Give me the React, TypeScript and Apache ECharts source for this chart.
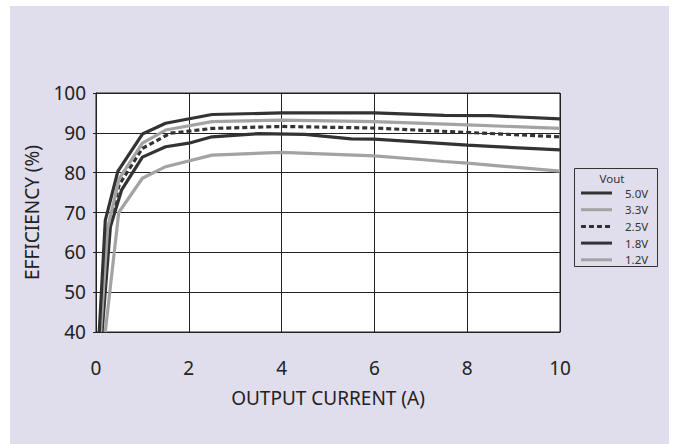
import React, { useEffect, useRef } from "react";
import * as echarts from "echarts";

const xTicks = [0, 2, 4, 6, 8, 10];
const yTicks = [40, 50, 60, 70, 80, 90, 100];

const seriesNames = ["5.0V", "3.3V", "2.5V", "1.8V", "1.2V"];

const i50 = [0.07, 0.2, 0.47, 1.0, 1.5, 2.5, 4, 6, 7.5, 8.5, 10];
const e50 = [40, 68, 80.3, 89.7, 92.4, 94.6, 95, 95, 94.4, 94.3, 93.5];

const i33 = [0.1, 0.25, 0.5, 1.0, 1.5, 2.5, 4, 6, 8, 10];
const e33 = [40, 66, 78.5, 87.4, 90.7, 92.8, 93.2, 92.8, 92, 91.1];

const i25 = [0.1, 0.27, 0.5, 1.0, 1.6, 2.5, 4, 6, 8, 10];
const e25 = [40, 66, 77, 86.1, 89.9, 91.1, 91.6, 91.2, 90.1, 89];

const i18 = [0.13, 0.31, 0.55, 1.0, 1.5, 2.0, 2.5, 3.5, 4.5, 5.5, 6, 8, 10];
const e18 = [40, 66.4, 75.6, 83.9, 86.5, 87.4, 89, 89.8, 89.6, 88.5, 88.4, 86.9, 85.7];

const i12 = [0.2, 0.49, 1.0, 1.5, 2.5, 4, 6, 7, 7.5, 8, 10];
const e12 = [40, 70, 78.6, 81.5, 84.4, 85.1, 84.2, 83.3, 82.8, 82.4, 80.4];

const currents = [i50, i33, i25, i18, i12];
const efficiencies = [e50, e33, e25, e18, e12];

const DARK = "#333333";
const LIGHT = "#a3a3a3";
const colors = [DARK, LIGHT, DARK, DARK, LIGHT];
const dashes: (string | number[])[] = ["solid", "solid", [5, 3], "solid", "solid"];

const FONT = "Noto Sans";

export default function App() {
  const ref = useRef<HTMLDivElement>(null);
  useEffect(() => {
    if (!ref.current) return;
    const chart = echarts.init(ref.current, null, { renderer: "svg" });
    const series = seriesNames.map((name, k) => ({
      name,
      type: "line",
      symbol: "none",
      data: currents[k].map((x, j) => [x, efficiencies[k][j]]),
      lineStyle: { color: colors[k], width: 3.2, type: dashes[k] },
      itemStyle: { color: colors[k] },
      z: 10 - k,
    }));
    const legendItems: any[] = [];
    seriesNames.forEach((name, k) => {
      const y = 193 + 16.7 * k;
      legendItems.push({
        type: "line",
        shape: { x1: 581, y1: y, x2: 612, y2: y },
        style: {
          stroke: colors[k],
          lineWidth: 3,
          lineDash: Array.isArray(dashes[k]) ? (dashes[k] as number[]) : null,
        },
        z: 5,
      });
      legendItems.push({
        type: "text",
        x: 625,
        y,
        style: {
          text: name,
          fontFamily: FONT,
          fontSize: 11.5,
          fill: "#333",
          align: "left",
          verticalAlign: "middle",
        },
        z: 5,
      });
    });
    chart.setOption({
      animation: false,
      backgroundColor: "transparent",
      graphic: [
        {
          type: "rect",
          shape: { x: 10, y: 6, width: 659, height: 438 },
          style: { fill: "#e0ddec" },
          z: -10,
          silent: true,
        },
        {
          type: "rect",
          shape: { x: 574.5, y: 168.5, width: 83, height: 98 },
          style: { fill: "none", stroke: "#333", lineWidth: 1 },
          z: 5,
        },
        {
          type: "text",
          x: 612,
          y: 178,
          style: {
            text: "Vout",
            fontFamily: FONT,
            fontSize: 11.5,
            fill: "#333",
            align: "center",
            verticalAlign: "middle",
          },
          z: 5,
        },
        ...legendItems,
      ],
      grid: {
        left: 96,
        top: 93,
        right: 115,
        bottom: 112,
        show: true,
        backgroundColor: "#ffffff",
        borderColor: "#222",
        borderWidth: 1,
      },
      xAxis: {
        type: "value",
        min: xTicks[0],
        max: xTicks[xTicks.length - 1],
        interval: 2,
        name: "OUTPUT CURRENT (A)",
        nameLocation: "middle",
        nameGap: 56,
        nameTextStyle: { fontFamily: FONT, fontSize: 19, color: "#222" },
        axisLine: { show: true, lineStyle: { color: "#222", width: 1 } },
        axisTick: { show: false },
        axisLabel: { fontFamily: FONT, fontSize: 19, color: "#222", margin: 26 },
        splitLine: { show: true, lineStyle: { color: "#222", width: 1 } },
      },
      yAxis: {
        type: "value",
        min: yTicks[0],
        max: yTicks[yTicks.length - 1],
        interval: 10,
        name: "EFFICIENCY (%)",
        nameLocation: "middle",
        nameGap: 55,
        nameTextStyle: { fontFamily: FONT, fontSize: 19, color: "#222" },
        axisLine: { show: true, lineStyle: { color: "#222", width: 1 } },
        axisTick: { show: true, length: 3, lineStyle: { color: "#222" } },
        axisLabel: {
          fontFamily: FONT,
          fontSize: 19,
          color: "#222",
          margin: 10,
          padding: [9, 0, 0, 0],
        },
        splitLine: { show: true, lineStyle: { color: "#222", width: 1 } },
      },
      series,
    });
    return () => chart.dispose();
  }, []);
  return (
    <div
      ref={ref}
      style={{ position: "absolute", left: 0, top: 0, width: 675, height: 444 }}
    />
  );
}
